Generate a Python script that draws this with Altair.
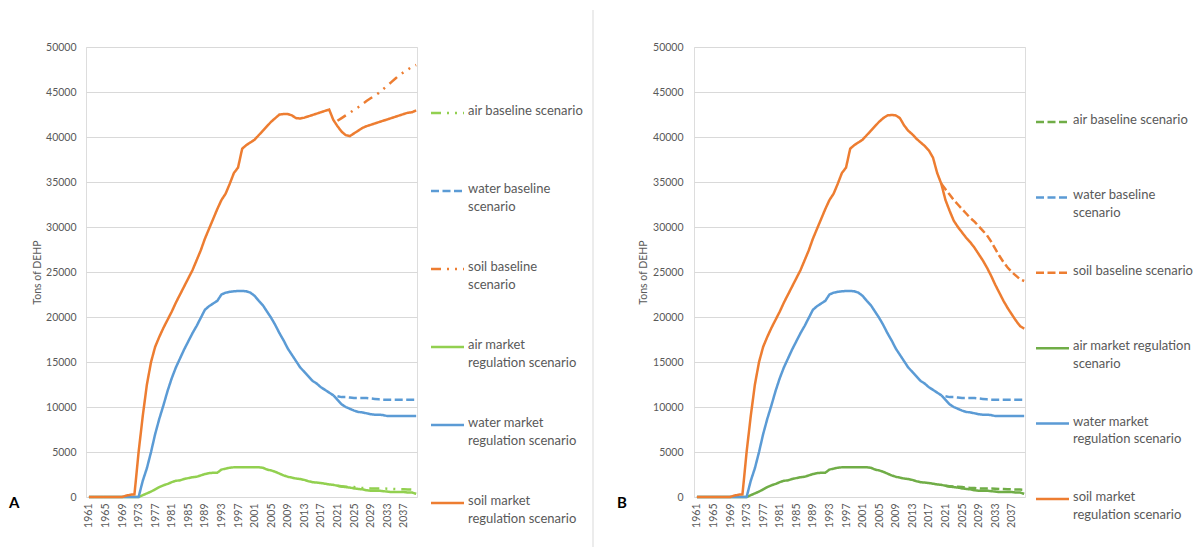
import altair as alt
import pandas as pd

FONT = "Lato"
GRAY = "#595959"

years = list(range(1961, 2041))
base_years = list(range(2021, 2041))
base_years_soil_b = list(range(2020, 2041))
tick_years = list(range(1961, 2040, 4))

names = [
    "air baseline scenario",
    "water baseline scenario",
    "soil baseline scenario",
    "air market regulation scenario",
    "water market regulation scenario",
    "soil market regulation scenario",
]

labels_a = [
    "air baseline scenario",
    "water baseline\nscenario",
    "soil baseline\nscenario",
    "air market\nregulation scenario",
    "water market\nregulation scenario",
    "soil market\nregulation scenario",
]
labels_b = [
    "air baseline scenario",
    "water baseline\nscenario",
    "soil baseline scenario",
    "air market regulation\nscenario",
    "water market\nregulation scenario",
    "soil market\nregulation scenario",
]

# 1961..2040
air_market = [0] * 13 + [
    200, 400, 600, 850, 1100, 1300, 1450, 1650, 1800, 1850,
    2000, 2100, 2200, 2250, 2400, 2550, 2650, 2700, 2700, 3050,
    3150, 3250, 3300, 3300, 3300, 3300, 3300, 3300, 3300, 3250,
    3050, 2950, 2800, 2600, 2400, 2250, 2150, 2050, 2000, 1900,
    1750, 1650, 1600, 1550, 1480, 1400, 1350, 1250, 1150, 1100,
    1050, 950, 900, 850, 750, 700, 700, 700, 650, 600,
    550, 550, 550, 550, 500, 500, 350,
]
water_market = [0] * 13 + [
    1800, 3200, 5000, 7000, 8700, 10200, 11800, 13200, 14400, 15400,
    16400, 17300, 18200, 19000, 19900, 20800, 21200, 21500, 21800, 22500,
    22700, 22800, 22850, 22900, 22900, 22850, 22700, 22350, 21800, 21300,
    20600, 19900, 19100, 18200, 17400, 16500, 15800, 15100, 14400, 13900,
    13400, 12900, 12600, 12200, 11900, 11600, 11300, 10800, 10300, 10000,
    9800, 9600, 9450, 9400, 9300, 9200, 9150, 9150, 9100, 9000,
    9000, 9000, 9000, 9000, 9000, 9000, 9000,
]
soil_early = [0] * 9 + [150, 250, 300] + [
    5000, 9000, 12500, 15000, 16700, 17800, 18800, 19700, 20600, 21600,
    22500, 23400, 24300, 25200, 26300, 27400, 28700, 29800, 30900, 32000,
    33000, 33700, 34800, 36000, 36600, 38700, 39100, 39400, 39700, 40200,
    40700, 41200, 41700, 42100,
]  # 1961..2006
soil_market_a = soil_early + [
    42500, 42550, 42550, 42400, 42100, 42050, 42150, 42300, 42450, 42600,
    42750, 42900, 43050, 41900, 41200, 40600, 40200, 40100, 40400, 40700,
    41000, 41200, 41350, 41500, 41650, 41800, 41950, 42100, 42250, 42400,
    42550, 42700, 42750, 42950,
]
soil_market_b = soil_early + [
    42400, 42450, 42400, 42100, 41300, 40700, 40300, 39800, 39400, 39000,
    38500, 37700, 36000, 34800, 33000, 31800, 30700, 30000, 29400, 28800,
    28300, 27700, 27000, 26300, 25500, 24600, 23600, 22700, 21800, 21000,
    20300, 19600, 19000, 18700,
]

# baselines 2021..2040 (soil B from 2020)
air_base = [1250, 1200, 1150, 1150, 1100, 1050, 1000, 1000, 950, 950,
            950, 950, 930, 900, 880, 860, 850, 830, 820, 800]
water_base = [11200, 11100, 11100, 11050, 11000, 11000, 11000, 11000, 10950, 10900,
              10850, 10800, 10800, 10800, 10800, 10800, 10800, 10800, 10800, 10800]
soil_base_a = [41800, 42100, 42400, 42700, 43000, 43300, 43650, 44000, 44300, 44600,
               44900, 45300, 45700, 46100, 46500, 46900, 47200, 47500, 47800, 48000]
soil_base_b = [34800, 34200, 33600, 33000, 32500, 32000, 31500, 31000, 30600, 30100,
               29600, 29100, 28400, 27600, 26800, 26100, 25500, 25000, 24600, 24200, 24000]


def long_df(soil_market, soil_base, soil_base_years):
    parts = [
        pd.DataFrame({"year": base_years, "value": air_base, "series": names[0]}),
        pd.DataFrame({"year": base_years, "value": water_base, "series": names[1]}),
        pd.DataFrame({"year": soil_base_years, "value": soil_base, "series": names[2]}),
        pd.DataFrame({"year": years, "value": air_market, "series": names[3]}),
        pd.DataFrame({"year": years, "value": water_market, "series": names[4]}),
        pd.DataFrame({"year": years, "value": soil_market, "series": names[5]}),
    ]
    return pd.concat(parts, ignore_index=True)


DASH_DD = [10, 6, 2, 6, 2, 6]
DASH = [8, 3.5]
SOLID = [1, 0]


def panel(df, colors, dashes, labels, letter, leg_range, leg_x, title_x, label_pad, divider):
    color = alt.Color("series:N", scale=alt.Scale(domain=names, range=colors), legend=None)
    dash = alt.StrokeDash("series:N", scale=alt.Scale(domain=names, range=dashes), legend=None)
    x_enc = alt.X(
        "year:Q",
        scale=alt.Scale(domain=[1960.3, 2040.2], nice=False, zero=False),
        axis=alt.Axis(values=tick_years, format="d", labelAngle=270, labelAlign="right",
                      labelBaseline="middle", labelPadding=6, labelFontSize=10.5,
                      labelColor=GRAY, labelFont=FONT, domain=False, ticks=False, grid=False,
                      title=None, labelFlush=False, labelOverlap=False),
    )
    y_enc = alt.Y(
        "value:Q",
        scale=alt.Scale(domain=[0, 50000], nice=False),
        axis=alt.Axis(values=list(range(0, 50001, 5000)), format="d", grid=True,
                      gridColor="#D9D9D9", domain=False, ticks=False, labelPadding=label_pad,
                      labelFontSize=10.5, labelColor=GRAY, labelFont=FONT,
                      title="Tons of DEHP", titleFontSize=10.5, titleFontWeight="normal",
                      titleColor=GRAY, titleFont=FONT, titleX=title_x, titleY=225,
                      titleAngle=270, titleAlign="center", titleBaseline="middle"),
    )
    lines = alt.Chart(df).mark_line(strokeWidth=2.5).encode(
        x=x_enc, y=y_enc, color=color, strokeDash=dash
    )
    leg_df = pd.DataFrame({"series": names, "label": labels})
    leg_y = alt.Y("series:N", scale=alt.Scale(type="point", domain=names, range=leg_range, padding=0), axis=None)
    rules = alt.Chart(leg_df).mark_rule(strokeWidth=2.5).encode(
        x=alt.value(leg_x), x2=alt.value(leg_x + 33), y=leg_y, color=color, strokeDash=dash
    )
    texts = alt.Chart(leg_df).mark_text(
        align="left", baseline="top", dy=-8, lineBreak="\n", fontSize=13, color=GRAY,
        font=FONT, lineHeight=17.5
    ).encode(x=alt.value(leg_x + 37), y=leg_y, text="label:N")
    let = alt.Chart(pd.DataFrame({"t": [letter]})).mark_text(
        align="left", baseline="middle", fontSize=15, fontWeight="bold", font=FONT, color="black"
    ).encode(x=alt.value(-77), y=alt.value(456), text="t:N")
    layers = [lines, rules, texts, let]
    if divider:
        div = alt.Chart(pd.DataFrame({"d": [0]})).mark_rule(color="#D9D9D9", strokeWidth=1).encode(
            x=alt.value(507), y=alt.value(-37), y2=alt.value(500)
        )
        layers.append(div)
    return alt.layer(*layers).resolve_scale(y="independent").properties(width=331, height=450)


df_a = long_df(soil_market_a, soil_base_a, base_years)
df_b = long_df(soil_market_b, soil_base_b, base_years_soil_b)

chart_a = panel(
    df_a,
    ["#92D050", "#5B9BD5", "#ED7D31", "#92D050", "#5B9BD5", "#ED7D31"],
    [DASH_DD, DASH, DASH_DD, SOLID, SOLID, SOLID],
    labels_a, "A", [66, 456], 345, -49, 10, True,
)
chart_b = panel(
    df_b,
    ["#70AD47", "#5B9BD5", "#ED7D31", "#70AD47", "#5B9BD5", "#ED7D31"],
    [DASH, DASH, DASH, SOLID, SOLID, SOLID],
    labels_b, "B", [75, 452], 342, -51, 11, False,
)

chart = alt.hconcat(chart_a, chart_b, spacing=277, bounds="flush").resolve_scale(
    color="independent", strokeDash="independent"
).properties(
    padding={"left": 0, "top": 1, "right": 0, "bottom": 0}
).configure_view(stroke=None).configure(font=FONT)

chart.save("out.html", embed_options={"renderer": "svg", "actions": False})
